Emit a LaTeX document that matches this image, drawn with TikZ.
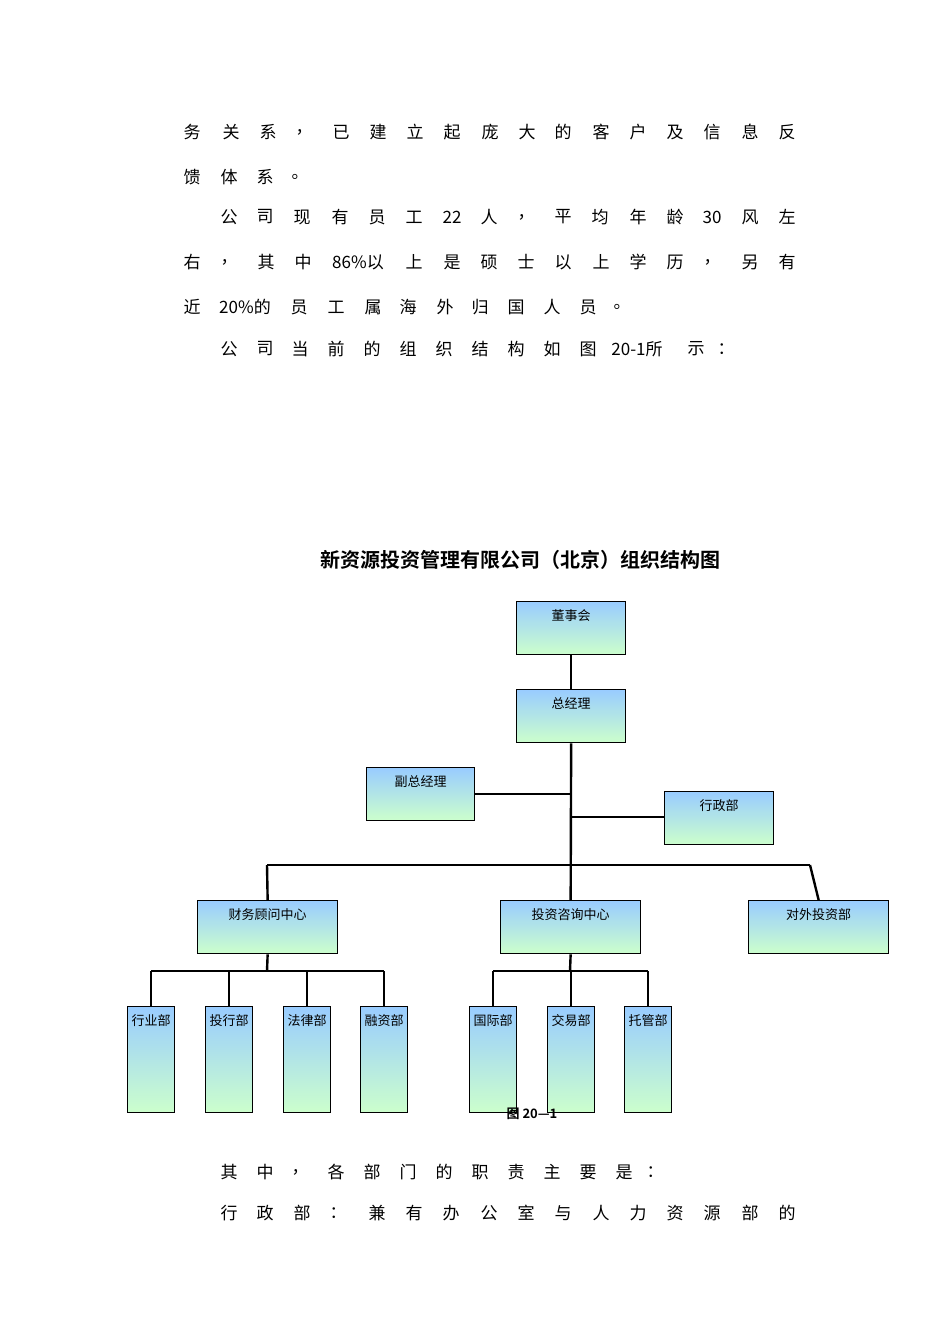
\documentclass[tikz,border=0pt]{standalone}
\usepackage{fontspec}
\setmainfont{Liberation Serif}
\newfontfamily\cjk{Noto Sans CJK SC}
\newfontfamily\cjkb{Noto Sans CJK SC}[BoldFont={Noto Sans CJK SC Bold}]
\begin{document}
\begin{tikzpicture}[x=1pt,y=-1pt,
  bx/.style={draw=black,line width=1.3pt,top color=blue!40!cyan!30,bottom color=green!20,anchor=north west,inner sep=0pt},
  ln/.style={line width=2.4pt},
  tx/.style={font=\cjk\fontsize{17}{17}\selectfont,inner sep=0pt},
  lb/.style={font=\cjk\fontsize{13}{13}\selectfont,inner sep=0pt,anchor=north}]
\useasboundingbox (0,0) rectangle (950,1344);
\tikzset{bx/.append style={top color={rgb,255:red,153;green,204;blue,255},bottom color={rgb,255:red,204;green,255;blue,204}}}
% body text
\foreach \x/\t [count=\i] in {192/务,231/关,268/系,304/，,341/已,378/建,415/立,452/起,490/庞,527/大,563/的,601/客,638/户,675/及,712/信,750/息,787/反}
  \node[tx] (a\i) at (\x,132) {\t};
\foreach \x/\t [count=\i] in {192/馈,229/体,265/系,300/。}
  \node[tx] (b\i) at (\x,177) {\t};
\foreach \x/\t [count=\i] in {229/公,265/司,302/现,340/有,377/员,414/工,452/22,489/人,526/，,563/平,600/均,638/年,675/龄,712/30,750/风,787/左}
  \node[tx] (c\i) at (\x,217) {\t};
\foreach \x/\t [count=\i] in {192/右,229/，,266/其,303/中,358/86\%以,414/上,452/是,489/硕,526/士,563/以,601/上,638/学,675/历,712/，,750/另,787/有}
  \node[tx] (d\i) at (\x,262) {\t};
\foreach \x/\t [count=\i] in {192/近,245/20\%的,299/员,336/工,373/属,408/海,445/外,480/归,516/国,552/人,588/员,622/。}
  \node[tx] (e\i) at (\x,307) {\t};
\foreach \x/\t [count=\i] in {229/公,265/司,300/当,336/前,372/的,408/组,444/织,480/结,516/构,552/如,588/图,637/20-1所,696/示,726/：}
  \node[tx] (f\i) at (\x,349) {\t};
\foreach \x/\t [count=\i] in {229/其,265/中,300/，,336/各,372/部,408/门,444/的,480/职,516/责,552/主,588/要,624/是,655/：}
  \node[tx] (g\i) at (\x,1172) {\t};
\foreach \x/\t [count=\i] in {229/行,265/政,302/部,338/：,377/兼,414/有,451/办,489/公,526/室,563/与,601/人,638/力,675/资,712/源,750/部,787/的}
  \node[tx] (h\i) at (\x,1213) {\t};
% title
\node[font=\cjkb\bfseries\fontsize{20}{20}\selectfont,inner sep=0pt] (title) at (520,560) {新资源投资管理有限公司（北京）组织结构图};
% boxes
\node[bx,minimum width=109pt,minimum height=53pt] (dsh) at (516,601) {};
\node[bx,minimum width=109pt,minimum height=53pt] (zjl) at (516,689) {};
\node[bx,minimum width=108pt,minimum height=53pt] (fz) at (366,767) {};
\node[bx,minimum width=109pt,minimum height=53pt] (xz) at (664,791) {};
\node[bx,minimum width=140pt,minimum height=53pt] (cw) at (197,900) {};
\node[bx,minimum width=140pt,minimum height=53pt] (tz) at (500,900) {};
\node[bx,minimum width=140pt,minimum height=53pt] (dw) at (748,900) {};
\foreach \n/\x in {hy/127,th/205,fl/283,rz/360,gj/469,jy/547,tg/624}
  \node[bx,minimum width=47pt,minimum height=106pt] (\n) at (\x,1006) {};
\foreach \n/\t in {dsh/董事会,zjl/总经理,fz/副总经理,xz/行政部,cw/财务顾问中心,tz/投资咨询中心,dw/对外投资部,hy/行业部,th/投行部,fl/法律部,rz/融资部,gj/国际部,jy/交易部,tg/托管部}
  \node[lb] (\n t) at ([yshift=-8pt]\n.north) {\t};
% connectors
\coordinate (j1) at (570,794); \coordinate (j2) at (570,817); \coordinate (j3) at (570,865);
\coordinate (bl) at (267,865); \coordinate (br) at (810,865);
\draw[ln] (dsh.south) -- (zjl.north);
\draw[ln] (zjl.south) -- (tz.north);
\draw[ln] (fz.east|-j1) -- (j1);
\draw[ln] (j2) -- (xz.west|-j2);
\draw[ln] (bl) -- (br);
\draw[ln] (bl) -- (cw.north);
\draw[ln] (br) -- (dw.north);
\coordinate (c1) at (267,971);
\draw[ln] (cw.south) -- (c1);
\draw[ln] (hy.north|-c1) -- (rz.north|-c1);
\foreach \n in {hy,th,fl,rz} \draw[ln] (\n.north|-c1) -- (\n.north);
\coordinate (c2) at (570,971);
\draw[ln] (tz.south) -- (c2);
\draw[ln] (gj.north|-c2) -- (tg.north|-c2);
\foreach \n in {gj,jy,tg} \draw[ln] (\n.north|-c2) -- (\n.north);
\node[font=\cjkb\bfseries\fontsize{13}{13}\selectfont,inner sep=0pt] (cap) at (532,1114) {图 20—1};
\end{tikzpicture}
\end{document}
